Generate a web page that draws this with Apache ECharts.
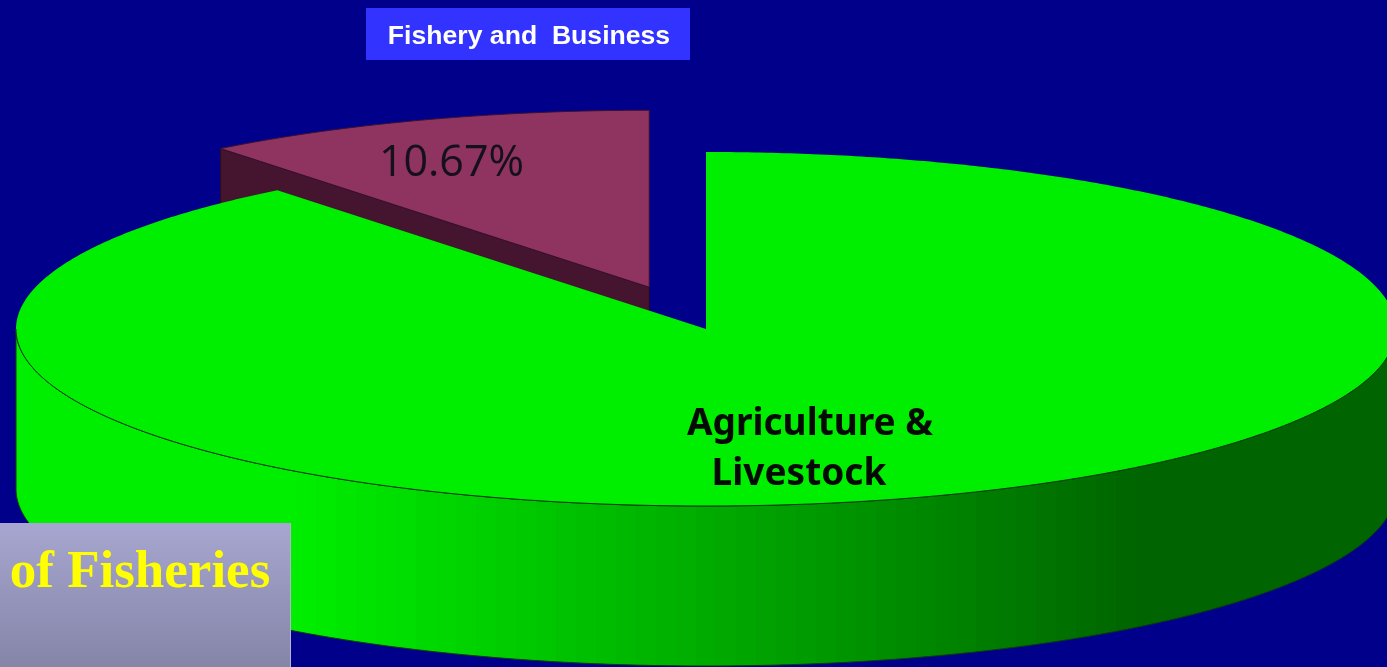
<!DOCTYPE html>
<html>
<head>
<meta charset="utf-8">
<style>html,body{margin:0;padding:0;background:#00008b}#chart{width:1387px;height:667px}</style>
<script src="https://cdn.jsdelivr.net/npm/echarts@6/dist/echarts.min.js"></script>
</head>
<body>
<div id="chart"></div>
<script>
// Shares of income by sector, in percent
const categories = ['Agriculture & Livestock', 'Fishery and  Business'];
const shares = [89.33, 10.67];
const explodedSector = 1;
const agricultureLabel = ['Agriculture &', 'Livestock'];
const footerText = 'of Fisheries';

// Projection of the tilted disc
const CX = 706, CY = 329, RX = 690, RY = 177, DEPTH = 160, EXPLODE = 0.25;
const total = shares.reduce((a, b) => a + b, 0);

const project = (deg, k = 1) => {
  const t = deg * Math.PI / 180;
  return [CX + RX * k * Math.sin(t), CY - RY * k * Math.cos(t)];
};
const arc = (from, to, dy = 0, off = [0, 0]) => {
  const pts = [];
  const steps = Math.max(2, Math.ceil(Math.abs(to - from) * 2));
  for (let i = 0; i <= steps; i++) {
    const p = project(from + (to - from) * i / steps);
    pts.push([p[0] + off[0], p[1] + dy + off[1]]);
  }
  return pts;
};

// Side wall shading in narrow vertical bands, from bright at the left to dark at the right
const shadeStart = 300, shadeEnd = 1140, bandWidth = 20;
const shadeAt = x => {
  const t = Math.min(1, Math.max(0, (x - shadeStart) / (shadeEnd - shadeStart)));
  return 'rgb(0,' + Math.round(238 - t * 138) + ',0)';
};
const sideStops = [];
for (let x = 16; x < 1396; x += bandWidth) {
  const c = shadeAt(x + bandWidth / 2);
  sideStops.push({ offset: (x - 16) / 1380, color: c });
  sideStops.push({ offset: Math.min(1, (x + bandWidth - 16) / 1380), color: c });
}
const sideFill = new echarts.graphic.LinearGradient(16, 0, 1396, 0, sideStops, true);

function renderSector(params, api) {
  const i = api.value(2);
  let startShare = 0;
  for (let k = 0; k < i; k++) startShare += shares[k];
  const a0 = startShare / total * 360;
  const a1 = a0 + api.value(0) / total * 360;
  const children = [];

  if (i === explodedSector) {
    const mid = (a0 + a1) / 2;
    const tip = project(mid, EXPLODE);
    const off = [tip[0] - CX, tip[1] - CY];
    const apex = [CX + off[0], CY + off[1]];
    const edge = project(a0);
    const edgeP = [edge[0] + off[0], edge[1] + off[1]];
    // Cut face seen along the left edge of the pulled-out sector
    children.push({
      type: 'polygon',
      shape: { points: [edgeP, apex, [apex[0], apex[1] + DEPTH], [edgeP[0], edgeP[1] + DEPTH]] },
      style: { fill: '#451530', stroke: '#2a0a20', lineWidth: 1 }
    });
    children.push({
      type: 'polygon',
      shape: { points: [apex].concat(arc(a0, a1, 0, off)) },
      style: { fill: '#8f3360', stroke: '#3a1030', lineWidth: 1 }
    });
    children.push({
      type: 'text',
      style: {
        x: 451.5, y: 164, text: api.value(0).toFixed(2) + '%', fill: '#14101c',
        font: '43px "Open Sans"', align: 'center', verticalAlign: 'middle'
      }
    });
  } else {
    // Outer wall of the large sector: only the front half of the rim shows
    const top = arc(90, 270);
    const bottom = arc(270, 90, DEPTH);
    children.push({
      type: 'polygon',
      shape: { points: top.concat(bottom) },
      style: { fill: sideFill, stroke: '#0b3a12', lineWidth: 1 }
    });
    children.push({
      type: 'polygon',
      shape: { points: [[CX, CY]].concat(arc(a0, a1)) },
      style: { fill: '#00ee00' }
    });
    children.push({
      type: 'polyline',
      shape: { points: arc(90, 270) },
      style: { fill: 'none', stroke: '#0b3a12', lineWidth: 1 }
    });
    agricultureLabel.forEach((line, n) => {
      children.push({
        type: 'text',
        style: {
          x: n === 0 ? 810 : 799, y: 424 + n * 50, text: line, fill: '#050a05',
          font: 'bold 37px "Noto Sans"', align: 'center', verticalAlign: 'middle'
        }
      });
    });
  }
  return { type: 'group', children };
}

const chart = echarts.init(document.getElementById('chart'), null, { renderer: 'canvas' });
chart.setOption({
  animation: false,
  backgroundColor: '#00008b',
  series: [{
    type: 'custom',
    coordinateSystem: 'none',
    renderItem: renderSector,
    silent: true,
    // The pulled-out sector is painted first so the large sector overlaps it
    data: shares.map((v, i) => [v, categories[i], i]).reverse(),
    z: 1
  }],
  graphic: [
    {
      type: 'rect', z: 10,
      shape: { x: 366, y: 8, width: 324, height: 52 },
      style: { fill: '#3333ff' }
    },
    {
      type: 'text', z: 11,
      style: {
        x: 529, y: 37, text: categories[explodedSector], fill: '#ffffff',
        font: 'bold 26.6px "Liberation Sans"', align: 'center', verticalAlign: 'middle'
      }
    },
    {
      type: 'rect', z: 10,
      shape: { x: 0, y: 523, width: 291, height: 144 },
      style: {
        fill: new echarts.graphic.LinearGradient(0, 0, 0, 1, [
          { offset: 0, color: '#a6a6d0' },
          { offset: 1, color: '#8585a8' }
        ])
      }
    },
    {
      type: 'rect', z: 10,
      shape: { x: 290, y: 523, width: 1, height: 144 },
      style: { fill: '#b4b4cc' }
    },
    {
      type: 'text', z: 11,
      style: {
        x: 140, y: 573, text: footerText, fill: '#ffff00',
        font: 'bold 53px "Liberation Serif"', align: 'center', verticalAlign: 'middle'
      }
    }
  ]
});
</script>
</body>
</html>
